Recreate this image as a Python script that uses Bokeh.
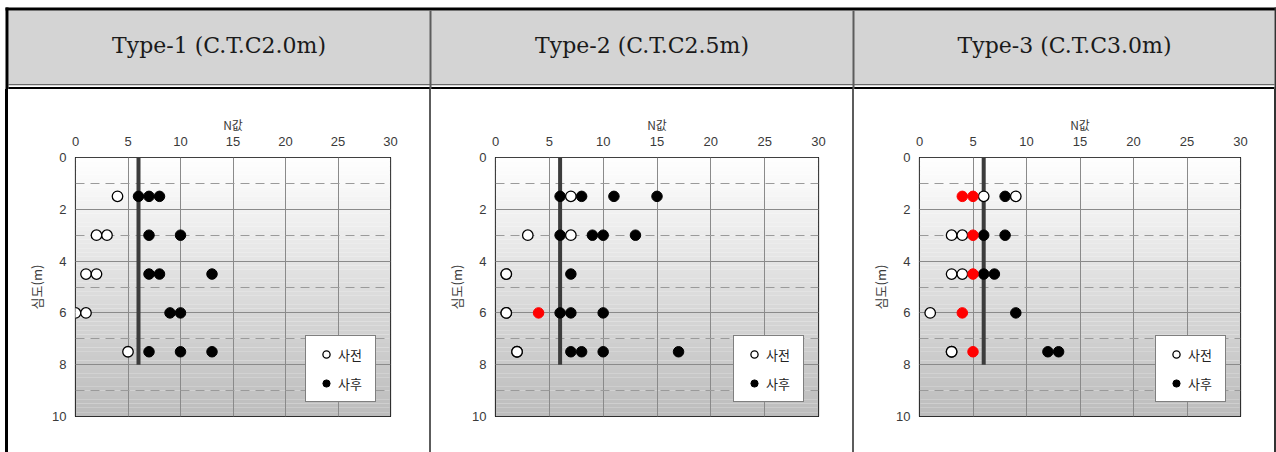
from bokeh.plotting import figure
from bokeh.models import Range1d, SingleIntervalTicker, Legend, LegendItem, Spacer
from bokeh.layouts import column, row
from bokeh.core.properties import value
from bokeh.embed import file_html
from bokeh.resources import INLINE

# ---------------- data ----------------
panel_titles = ["Type-1 (C.T.C2.0m)", "Type-2 (C.T.C2.5m)", "Type-3 (C.T.C3.0m)"]
legend_labels = ["사전", "사후"]
x_title = "N값"
y_title = "심도(m)"

design_n = [6, 6]
design_depth = [0, 8]

t1_before_n = [4, 2, 3, 1, 2, 0, 1, 5]
t1_before_d = [1.5, 3, 3, 4.5, 4.5, 6, 6, 7.5]
t1_after_n = [6, 7, 8, 7, 10, 7, 8, 13, 9, 10, 7, 10, 13]
t1_after_d = [1.5, 1.5, 1.5, 3, 3, 4.5, 4.5, 4.5, 6, 6, 7.5, 7.5, 7.5]
t1_red_n = []
t1_red_d = []

t2_before_n = [7, 3, 7, 1, 1, 1, 1, 2, 2]
t2_before_d = [1.5, 3, 3, 4.5, 4.5, 6, 6, 7.5, 7.5]
t2_after_n = [6, 8, 11, 15, 6, 9, 10, 13, 7, 6, 7, 10, 7, 8, 10, 17]
t2_after_d = [1.5, 1.5, 1.5, 1.5, 3, 3, 3, 3, 4.5, 6, 6, 6, 7.5, 7.5, 7.5, 7.5]
t2_red_n = [4]
t2_red_d = [6]

t3_before_n = [6, 9, 3, 4, 3, 4, 1, 3, 3]
t3_before_d = [1.5, 1.5, 3, 3, 4.5, 4.5, 6, 7.5, 7.5]
t3_after_n = [8, 6, 8, 6, 7, 9, 12, 13]
t3_after_d = [1.5, 3, 3, 4.5, 4.5, 6, 7.5, 7.5]
t3_red_n = [4, 5, 5, 5, 4, 5]
t3_red_d = [1.5, 1.5, 3, 4.5, 6, 7.5]

panels = [
    (t1_before_n, t1_before_d, t1_after_n, t1_after_d, t1_red_n, t1_red_d),
    (t2_before_n, t2_before_d, t2_after_n, t2_after_d, t2_red_n, t2_red_d),
    (t3_before_n, t3_before_d, t3_after_n, t3_after_d, t3_red_n, t3_red_d),
]

# ---------------- layout / style ----------------
TOTAL_W = 1276
HEADER_H = 89
ROW_H = 363
LEFT_PAD = 5      # white strip left of the outer border
LEFT_BORDER = 3
DIV_W = 2
cell_w = [421, 421, 420]
# (left, right, top, bottom) borders around each chart frame
frame_borders = [(67, 39, 68, 36), (64, 34, 64, 33), (65, 34, 64, 34)]

HEADER_GRAY = "#d4d4d4"
DIV_COLOR = "#5c5c5c"
RIGHT_COLOR = "#333333"

# ---------------- header row ----------------
hdr = figure(width=TOTAL_W, height=HEADER_H, x_range=Range1d(0, TOTAL_W),
             y_range=Range1d(HEADER_H, 0), x_axis_type=None, y_axis_type=None,
             toolbar_location=None, output_backend="svg", min_border=0,
             outline_line_color=None, background_fill_color="white",
             border_fill_color="white")
hdr.xgrid.visible = False
hdr.ygrid.visible = False

x_left = LEFT_PAD
x_cell0 = LEFT_PAD + LEFT_BORDER
div_x = [x_cell0 + cell_w[0], x_cell0 + cell_w[0] + DIV_W + cell_w[1]]
x_right = div_x[1] + DIV_W + cell_w[2]
top_y = 7
band_top = 10
band_bottom = 83.5

# grey band
hdr.quad(left=[x_cell0], right=[x_right], top=[band_top], bottom=[band_bottom],
         fill_color=HEADER_GRAY, line_color=None)
# top outer border
hdr.quad(left=[x_left], right=[TOTAL_W], top=[top_y], bottom=[band_top],
         fill_color="black", line_color=None)
# double rule under header
hdr.quad(left=[x_cell0], right=[x_right], top=[band_bottom], bottom=[band_bottom + 1.2],
         fill_color="#6a6a6a", line_color=None)
hdr.quad(left=[x_cell0], right=[x_right], top=[HEADER_H - 2.5], bottom=[HEADER_H],
         fill_color="black", line_color=None)
# vertical rules
hdr.quad(left=[x_left], right=[x_cell0], top=[top_y], bottom=[HEADER_H],
         fill_color="black", line_color=None)
hdr.quad(left=div_x, right=[x + DIV_W for x in div_x], top=[band_top] * 2,
         bottom=[HEADER_H] * 2, fill_color=DIV_COLOR, line_color=None)
hdr.quad(left=[x_right], right=[TOTAL_W], top=[top_y], bottom=[HEADER_H],
         fill_color=RIGHT_COLOR, line_color=None)

starts = [x_cell0, div_x[0] + DIV_W, div_x[1] + DIV_W]
centers = [starts[i] + cell_w[i] / 2 for i in range(3)]
hdr.text(x=centers, y=[45] * 3, text=panel_titles, text_align="center",
         text_baseline="middle", text_font=value("DejaVu Serif"),
         text_font_size="22px", text_color="#1a1a1a")

# ---------------- chart panels ----------------
def make_panel(i):
    bn, bd, an, ad, rn, rd = panels[i]
    bl, br, bt, bb = frame_borders[i]
    p = figure(width=cell_w[i], height=ROW_H, x_range=Range1d(0, 30),
               y_range=Range1d(10, 0), x_axis_location="above",
               toolbar_location=None, output_backend="svg",
               min_border_left=bl, min_border_right=br,
               min_border_top=bt, min_border_bottom=bb,
               outline_line_color="black", outline_line_width=1.2,
               border_fill_color="white", background_fill_color="white")

    # gradient background (style only)
    nstrip = 60
    tops = [10 * k / nstrip for k in range(nstrip)]
    bots = [10 * (k + 1) / nstrip for k in range(nstrip)]
    cols = []
    for k in range(nstrip):
        v = int(round(255 - (255 - 188) * (k + 0.5) / nstrip))
        cols.append("#%02x%02x%02x" % (v, v, v))
    p.quad(left=0, right=30, top=tops, bottom=bots, fill_color=cols,
           line_color=None, level="image")

    xt = SingleIntervalTicker(interval=5, num_minor_ticks=0)
    yt = SingleIntervalTicker(interval=2, num_minor_ticks=2)
    p.xaxis.ticker = xt
    p.yaxis.ticker = yt
    p.xgrid.ticker = xt
    p.ygrid.ticker = yt

    p.xgrid.grid_line_color = "#8a8a8a"
    p.ygrid.grid_line_color = "#8a8a8a"
    p.ygrid.minor_grid_line_color = "#9a9a9a"
    p.ygrid.minor_grid_line_dash = "9 6"

    for ax in (p.xaxis, p.yaxis):
        ax.axis_line_color = None
        ax.major_tick_out = 0
        ax.major_tick_in = 0
        ax.minor_tick_out = 0
        ax.minor_tick_in = 0
        ax.major_label_text_font = "Liberation Sans"
        ax.major_label_text_font_size = "13px"
        ax.major_label_text_color = "#3a3a3a"
        ax.axis_label_text_font = "Noto Sans CJK KR"
        ax.axis_label_text_font_style = "normal"
        ax.axis_label_text_color = "#3a3a3a"
    p.xaxis.axis_label = x_title
    p.yaxis.axis_label = y_title
    p.xaxis.axis_label_text_font_size = "12px"
    p.yaxis.axis_label_text_font_size = "13px"
    p.xaxis.major_label_standoff = 12
    p.xaxis.axis_label_standoff = 1
    p.yaxis.major_label_standoff = 9
    p.yaxis.axis_label_standoff = 3

    p.line(x=design_n, y=design_depth, line_width=4, line_color="#3c3c3c")

    rb = p.scatter(x=bn, y=bd, marker="circle", size=10.5, fill_color="white",
                   line_color="black", line_width=1.3)
    ra = p.scatter(x=an, y=ad, marker="circle", size=10.5, fill_color="black",
                   line_color="black", line_width=1)
    if rn:
        p.scatter(x=rn, y=rd, marker="circle", size=10.5, fill_color="#ff0000",
                  line_color="#ff0000", line_width=1)

    leg = Legend(items=[LegendItem(label=legend_labels[0], renderers=[rb]),
                        LegendItem(label=legend_labels[1], renderers=[ra])],
                 location="bottom_right", margin=14, padding=8,
                 glyph_width=24, glyph_height=18, label_height=20,
                 label_width=29, label_standoff=0, spacing=9,
                 border_line_color="black", border_line_width=1,
                 background_fill_color="white", background_fill_alpha=1,
                 label_text_font="Noto Sans CJK KR", label_text_font_size="13px",
                 label_text_color="#222222")
    p.add_layout(leg)
    return p

charts = [make_panel(i) for i in range(3)]

def rule(width, color):
    return Spacer(width=width, height=ROW_H, styles={"background-color": color})

lower = row(rule(LEFT_PAD, "white"), rule(LEFT_BORDER, "black"), charts[0],
            rule(DIV_W, DIV_COLOR), charts[1], rule(DIV_W, DIV_COLOR), charts[2],
            rule(TOTAL_W - x_right, RIGHT_COLOR), spacing=0)
layout = column(hdr, lower, spacing=0)

open("out.html", "w").write(file_html(layout, INLINE))
